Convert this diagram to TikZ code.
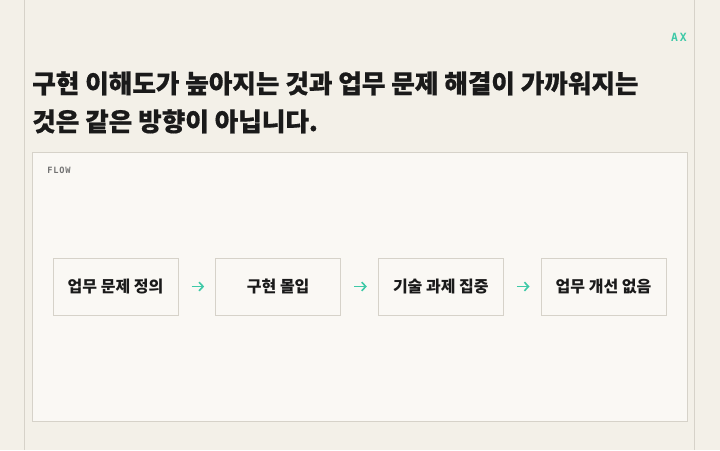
\documentclass[tikz,border=0pt]{standalone}
\usepackage{fontspec}
\usetikzlibrary{positioning, arrows.meta}
\newfontfamily\krfont{Noto Sans CJK KR}
\newfontfamily\krheavy{Noto Sans CJK KR}[BoldFeatures={FakeBold=0.6}]
\newfontfamily\monofont{DejaVu Sans Mono}

\definecolor{pagebg}{HTML}{F3F0E8}
\definecolor{panelbg}{HTML}{FAF8F4}
\definecolor{rulecol}{HTML}{D6D2C9}
\definecolor{teal}{HTML}{3EC9A7}
\definecolor{ink}{HTML}{1A1A1A}

\tikzset{
	flowbox/.style={draw=rulecol, fill=panelbg, line width=0.75pt, minimum width=93.75pt, minimum height=42.75pt, inner sep=0pt, font=\krfont\bfseries\fontsize{12}{14}\selectfont, text=ink},
	flowarrow/.style={-{Straight Barb[length=3pt, width=6.5pt, line width=1.2pt]}, teal, line width=1.2pt, shorten <=9.75pt, shorten >=8.25pt},
	titleline/.style={anchor=base west, inner sep=0pt, ink, font=\krheavy\bfseries\fontsize{19.2}{22}\selectfont}
}

\begin{document}
\begin{tikzpicture}[x=0.75pt, y=-0.75pt]
		% PAGE AND PANEL
		\useasboundingbox (0,0) rectangle (720,450);
		\fill[pagebg] (0,0) rectangle (720,450);
		\draw[rulecol, line width=0.75pt] (24.5,0) -- (24.5,450) (694.5,0) -- (694.5,450);
		\filldraw[fill=panelbg, draw=rulecol, line width=0.75pt] (32.5,152.5) rectangle (687.5,421.5);
		
		% LABELS
		\node[anchor=base east, inner sep=0pt, teal, font=\monofont\bfseries\fontsize{8.5}{9}\selectfont] (tag) at (687,41) {A\,X};
		\node[titleline] (title1) at (32,93) {구현 이해도가 높아지는 것과 업무 문제 해결이 가까워지는};
		\node[titleline] (title2) at (32,131) {것은 같은 방향이 아닙니다.};
		\node[anchor=base west, inner sep=0pt, black!55, font=\monofont\bfseries\fontsize{6.5}{7}\selectfont] (flow) at (47,173) {F\kern0.6pt L\kern0.6pt O\kern0.6pt W};
		
		% FLOW BOXES
		\node[flowbox] (define) at (115.5,286.5) {업무 문제 정의};
		\node[flowbox, right=27.5pt of define] (immerse) {구현 몰입};
		\node[flowbox, right=27.5pt of immerse] (focus) {기술 과제 집중};
		\node[flowbox, right=27.5pt of focus] (none) {업무 개선 없음};
		\draw[flowarrow] (define) -- (immerse);
		\draw[flowarrow] (immerse) -- (focus);
		\draw[flowarrow] (focus) -- (none);
	\end{tikzpicture}
\end{document}
